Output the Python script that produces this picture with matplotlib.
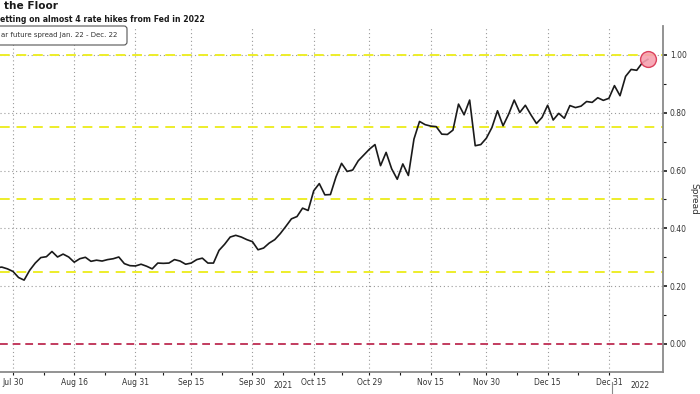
import numpy as np
import pandas as pd
import matplotlib
matplotlib.use("Agg")
import matplotlib.pyplot as plt
from matplotlib.patches import FancyBboxPatch

plt.rcParams["font.family"] = "DejaVu Sans"

INK = "#1a1a1a"
GRID = "#9a9a9a"
YELLOW = "#eded2a"
RED = "#c23b5e"
SPINE = "#8a8a8a"

# trading days only (Bloomberg style axis, no weekend gaps)
HOLIDAYS = ["2021-09-06", "2021-11-25", "2021-12-24"]
dates = pd.bdate_range("2021-07-27", "2022-01-11", freq="C", holidays=HOLIDAYS)

# ED future spread Jan. 22 - Dec. 22, one value per trading day
spread = [
    0.264, 0.266, 0.260, 0.251, 0.230, 0.221, 0.255, 0.280, 0.299, 0.302,
    0.320, 0.301, 0.311, 0.301, 0.283, 0.295, 0.300, 0.286, 0.290, 0.287,
    0.292, 0.295, 0.301, 0.278, 0.271, 0.270, 0.276, 0.269, 0.260, 0.280,
    0.279, 0.280, 0.292, 0.287, 0.276, 0.280, 0.292, 0.297, 0.280, 0.280,
    0.324, 0.345, 0.370, 0.376, 0.370, 0.361, 0.354, 0.326, 0.332, 0.349,
    0.361, 0.382, 0.407, 0.433, 0.441, 0.470, 0.462, 0.530, 0.555, 0.516,
    0.517, 0.578, 0.625, 0.597, 0.602, 0.634, 0.654, 0.674, 0.690, 0.617,
    0.663, 0.606, 0.570, 0.623, 0.583, 0.709, 0.770, 0.759, 0.754, 0.752,
    0.726, 0.725, 0.740, 0.830, 0.793, 0.844, 0.686, 0.690, 0.712, 0.749,
    0.807, 0.755, 0.795, 0.844, 0.801, 0.826, 0.793, 0.763, 0.784, 0.826,
    0.775, 0.798, 0.781, 0.825, 0.818, 0.823, 0.839, 0.836, 0.852, 0.843,
    0.850, 0.894, 0.859, 0.926, 0.950, 0.947, 0.973, 0.985,
]

tick_dates = ["2021-07-30", "2021-08-16", "2021-08-31", "2021-09-15", "2021-09-30",
              "2021-10-15", "2021-10-29", "2021-11-15", "2021-11-30", "2021-12-15",
              "2021-12-31"]
tick_labels = ["Jul 30", "Aug 16", "Aug 31", "Sep 15", "Sep 30", "Oct 15", "Oct 29",
               "Nov 15", "Nov 30", "Dec 15", "Dec 31"]
yellow_levels = [0.25, 0.50, 0.75, 1.00]
y_ticks = [0.0, 0.2, 0.4, 0.6, 0.8, 1.0]

x = np.arange(len(dates))
tick_pos = [dates.get_loc(pd.Timestamp(d)) for d in tick_dates]

fig = plt.figure(figsize=(7, 3.94), dpi=100)
ax = fig.add_axes([0.0, 0.0558, 0.947, 0.878])

# grid
for p in tick_pos:
    ax.axvline(p, color=GRID, lw=0.8, ls=(0, (1, 2.5)), zorder=0)
for v in y_ticks[1:]:
    ax.axhline(v, color=GRID, lw=0.8, ls=(0, (1, 2.5)), zorder=0)
for v in yellow_levels:
    ax.axhline(v, color=YELLOW, lw=1.4, ls=(0, (5, 3.5)), zorder=1)
ax.axhline(0.0, color=RED, lw=1.4, ls=(0, (4, 2.5)), zorder=1)

ax.plot(x, spread, color=INK, lw=1.2, zorder=3)
ax.scatter([x[-1]], [spread[-1]], s=130, facecolor="#f7a1b0", edgecolor="#d8324f",
           linewidth=1.0, zorder=4, alpha=0.9)

ax.set_xlim(tick_pos[0] - 2.33, tick_pos[0] + 116.7)
ax.set_ylim(-0.097, 1.1)

# axes styling
for s in ["left", "top"]:
    ax.spines[s].set_visible(False)
for s in ["right", "bottom"]:
    ax.spines[s].set_color(SPINE)
    ax.spines[s].set_linewidth(1.3)

ax.yaxis.tick_right()
ax.yaxis.set_label_position("right")
ax.set_yticks(y_ticks)
ax.set_yticklabels([f"{v:.2f}" for v in y_ticks])
ax.set_yticks([0.1, 0.3, 0.5, 0.7, 0.9], minor=True)
ax.tick_params(axis="y", which="major", length=3, width=1.2, color=INK,
               labelsize=5.5, pad=2, labelcolor="#333333")
ax.tick_params(axis="y", which="minor", length=2, width=0.8, color=INK)
ax.set_ylabel("Spread", rotation=270, fontsize=6.5, labelpad=8, color="#333333")

ax.set_xticks(tick_pos)
ax.set_xticklabels(tick_labels)
mids = [(a + b) / 2 for a, b in zip(tick_pos[:-1], tick_pos[1:])]
ax.set_xticks(mids, minor=True)
ax.tick_params(axis="x", which="major", length=2.5, width=0.8, color=INK,
               labelsize=5.5, pad=1.5, labelcolor="#333333")
ax.tick_params(axis="x", which="minor", length=2, width=0.8, color=INK)

# year labels
ax.text(0.427, -0.04, "2021", transform=ax.transAxes, ha="center", va="center",
        fontsize=5.5, color="#333333")
ax.text(0.965, -0.04, "2022", transform=ax.transAxes, ha="center", va="center",
        fontsize=5.5, color="#333333")
sep = tick_pos[-1] + 0.5
ax.plot([sep, sep], [-0.13, -0.2], color=SPINE, lw=0.8, clip_on=False)

# titles (left part cropped in the original)
fig.text(0.005, 0.997, "the Floor", fontsize=7.6, fontweight="bold", ha="left", va="top",
         color=INK)
fig.text(0.0, 0.962, "etting on almost 4 rate hikes from Fed in 2022", fontsize=5.6,
         fontweight="bold", ha="left", va="top", color=INK)

# legend box
box = FancyBboxPatch((-10, 349), 137, 19, boxstyle="round,pad=0,rounding_size=3",
                     transform=None, facecolor="white", edgecolor="#555555", lw=0.8,
                     zorder=5)
fig.patches.append(box)
fig.text(1 / 700, 1 - 35.5 / 394, "ar future spread Jan. 22 - Dec. 22", fontsize=5.0,
         ha="left", va="center", color="#333333", zorder=6)

fig.savefig("out.png", dpi=100)
